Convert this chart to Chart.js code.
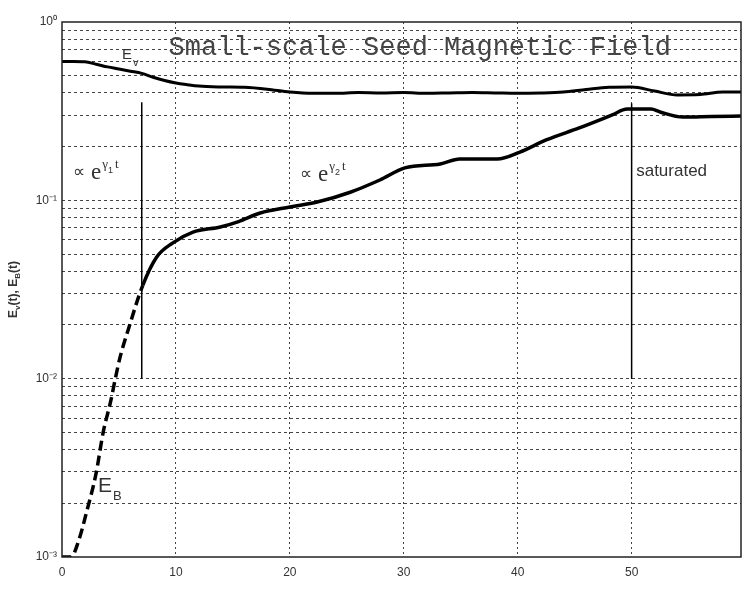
<!DOCTYPE html>
<html>
<head>
<meta charset="utf-8">
<script src="https://cdn.jsdelivr.net/npm/chart.js@4/dist/chart.umd.min.js"></script>
<style>
  body { margin: 0; background: #fff; }
  #wrap { width: 743px; height: 592px; position: relative; }
</style>
</head>
<body>
<div id="wrap"><canvas id="chart"></canvas></div>
<script>
// axis ticks
const xTicks = [0, 10, 20, 30, 40, 50];
const yMajor = [0.001, 0.01, 0.1, 1];
const yMajorLabels = ['10\u207B\u00B3', '10\u207B\u00B2', '10\u207B\u00B9', '10\u2070'];

// kinetic energy E_v(t)
const tV = [0, 1, 2, 3, 4, 5, 6, 7, 8, 9, 10, 11, 12, 14, 16, 18, 20, 22, 24, 26, 28, 30,
  32, 34, 36, 38, 40, 42, 44, 46, 48, 50, 52, 54, 56, 58, 59.6];
const eV = [0.6, 0.6, 0.598, 0.58, 0.56, 0.545, 0.53, 0.515, 0.49, 0.47, 0.455, 0.445, 0.437,
  0.432, 0.43, 0.42, 0.405, 0.398, 0.398, 0.402, 0.4, 0.402, 0.398, 0.4, 0.402, 0.4, 0.398,
  0.4, 0.405, 0.418, 0.43, 0.432, 0.41, 0.39, 0.392, 0.405, 0.405];

// magnetic energy E_B(t)
const tB = [0, 0.8, 1.4, 2.2, 3.0, 3.6, 4.3, 4.65, 5.1, 5.8, 7.1, 8.3, 9.7, 11.5, 13.9, 15.5, 17.4,
  20, 22.4, 25.3, 27.9, 30.1, 33.2, 34.9, 38.2, 40.2, 42.5, 45.4, 48.3, 49.6, 51.7, 52.5, 54.5, 57, 59.6];
const eB = [0.001, 0.001, 0.0012, 0.00183, 0.00296, 0.00495, 0.0076, 0.0098, 0.0132, 0.0187, 0.0335,
  0.048, 0.0576, 0.0664, 0.0709, 0.076, 0.0849, 0.0917, 0.0978, 0.111, 0.13, 0.152, 0.16, 0.1705,
  0.1705, 0.1866, 0.218, 0.2545, 0.301, 0.325, 0.325, 0.313, 0.293, 0.295, 0.297];

// vertical marker lines (growth phase boundaries)
const markT = [7.0, 50];
const markTop = [0.355, 0.35];
const markBottom = [0.01, 0.01];

const dashUntil = 7.1; // E_B drawn dashed in the first growth phase

const toPoints = (xs, ys) => xs.map((x, i) => ({ x: x, y: ys[i] }));

// all log minor ticks between 1e-3 and 1
const yTicks = [];
yMajor.slice(0, -1).forEach(m => {
  for (let k = 1; k < 10; k++) yTicks.push(+(m * k).toPrecision(3));
});
yTicks.push(1);

const markerSets = markT.map((t, i) => ({
  data: [{ x: t, y: markTop[i] }, { x: t, y: markBottom[i] }],
  borderColor: '#000',
  borderWidth: 1.5,
  pointRadius: 0,
  fill: false
}));

// draw text with sub/superscripts
function rich(ctx, parts, x, y) {
  parts.forEach(p => {
    ctx.font = p.font;
    ctx.fillText(p.text, x + (p.dx || 0), y + (p.dy || 0));
    x += ctx.measureText(p.text).width + (p.dx || 0);
  });
}

const decor = {
  id: 'decor',
  afterDatasetsDraw(chart) {
    const { ctx, chartArea: a, scales: { x, y } } = chart;
    const P = (t, v) => [x.getPixelForValue(t), y.getPixelForValue(v)];
    ctx.save();

    // box
    ctx.strokeStyle = '#222';
    ctx.lineWidth = 1.5;
    ctx.strokeRect(a.left, a.top, a.right - a.left, a.bottom - a.top);

    ctx.fillStyle = '#333';
    ctx.textBaseline = 'alphabetic';

    // title inside the axes
    ctx.textAlign = 'center';
    ctx.fillStyle = '#444';
    ctx.font = '27px "Liberation Mono", "DejaVu Sans Mono", monospace';
    let [px, py] = P(31.4, 0.653);
    ctx.fillText('Small-scale Seed Magnetic Field', px, py);

    ctx.fillStyle = '#333';
    ctx.textAlign = 'left';
    const sans = '"Liberation Sans", Arial, sans-serif';
    const serif = '"Liberation Serif", serif';

    // curve labels
    [px, py] = P(5.26, 0.62);
    rich(ctx, [
      { text: 'E', font: '15px ' + sans },
      { text: 'v', font: '11px ' + sans, dx: 1, dy: 7 }
    ], px, py);
    [px, py] = P(3.16, 0.00231);
    rich(ctx, [
      { text: 'E', font: '21px ' + sans },
      { text: 'B', font: '13px ' + sans, dx: 1, dy: 8 }
    ], px, py);

    // growth annotations
    const growth = (t, v, idx) => {
      const [gx, gy] = P(t, v);
      rich(ctx, [
        { text: '\u221D', font: '17px ' + sans, dy: -2 },
        { text: 'e', font: '23px ' + serif, dx: 6 },
        { text: '\u03B3', font: '13px ' + serif, dx: 1, dy: -11 },
        { text: idx, font: '9px ' + sans, dy: -6 },
        { text: 't', font: '13px ' + serif, dx: 2, dy: -11 }
      ], gx, gy);
    };
    growth(0.96, 0.132, '1');
    growth(20.9, 0.128, '2');

    ctx.font = '17px ' + sans;
    [px, py] = P(50.4, 0.137);
    ctx.fillText('saturated', px, py);

    // y axis label, rotated
    ctx.translate(17, (a.top + a.bottom) / 2);
    ctx.rotate(-Math.PI / 2);
    const bold = 'bold 12px ' + sans;
    const sub = 'bold 8px ' + sans;
    const parts = [
      { text: 'E', font: bold }, { text: 'v', font: sub, dy: 3 },
      { text: '(t), E', font: bold }, { text: 'B', font: sub, dy: 3 },
      { text: '(t)', font: bold }
    ];
    let w = 0;
    parts.forEach(p => { ctx.font = p.font; w += ctx.measureText(p.text).width; });
    rich(ctx, parts, -w / 2, 0);
    ctx.restore();
  }
};

new Chart(document.getElementById('chart'), {
  type: 'line',
  data: {
    datasets: [
      {
        label: 'E_v',
        data: toPoints(tV, eV),
        borderColor: '#000',
        borderWidth: 3,
        pointRadius: 0,
        cubicInterpolationMode: 'monotone',
        fill: false
      },
      {
        label: 'E_B',
        data: toPoints(tB, eB),
        borderColor: '#000',
        borderWidth: 3.5,
        pointRadius: 0,
        cubicInterpolationMode: 'monotone',
        fill: false,
        segment: {
          borderDash: ctx => ctx.p1.parsed.x <= dashUntil ? [10, 5] : undefined
        }
      },
      ...markerSets
    ]
  },
  options: {
    responsive: true,
    maintainAspectRatio: false,
    animation: false,
    layout: { padding: { top: 22, right: 2, left: 0, bottom: 0 } },
    plugins: {
      legend: { display: false },
      tooltip: { enabled: false },
      title: { display: false }
    },
    scales: {
      x: {
        type: 'linear',
        min: 0,
        max: 59.6,
        afterBuildTicks: s => { s.ticks = xTicks.map(v => ({ value: v })); },
        afterFit: s => { s.height = 35; },
        grid: {
          color: ctx => (ctx.tick && ctx.tick.value > 0) ? '#444' : 'rgba(0,0,0,0)',
          lineWidth: 1,
          drawTicks: false
        },
        border: { display: false, dash: [2, 3] },
        ticks: {
          padding: 8,
          color: '#333',
          font: { family: '"Liberation Sans", Arial, sans-serif', size: 12 },
          maxRotation: 0,
          autoSkip: false
        }
      },
      y: {
        type: 'logarithmic',
        min: 0.001,
        max: 1,
        afterBuildTicks: s => { s.ticks = yTicks.map(v => ({ value: v })); },
        afterFit: s => { s.width = 62; },
        grid: {
          color: ctx => (ctx.tick && ctx.tick.value > 0.001 && ctx.tick.value < 1) ? '#444' : 'rgba(0,0,0,0)',
          lineWidth: 1,
          drawTicks: false
        },
        border: { display: false, dash: [3, 3] },
        ticks: {
          padding: 5,
          color: '#333',
          autoSkip: false,
          font: { family: '"Liberation Sans", Arial, sans-serif', size: 12 },
          callback: v => {
            const i = yMajor.findIndex(m => Math.abs(m - v) < m * 1e-6);
            return i >= 0 ? yMajorLabels[i] : '';
          }
        }
      }
    }
  },
  plugins: [decor]
});
</script>
</body>
</html>
